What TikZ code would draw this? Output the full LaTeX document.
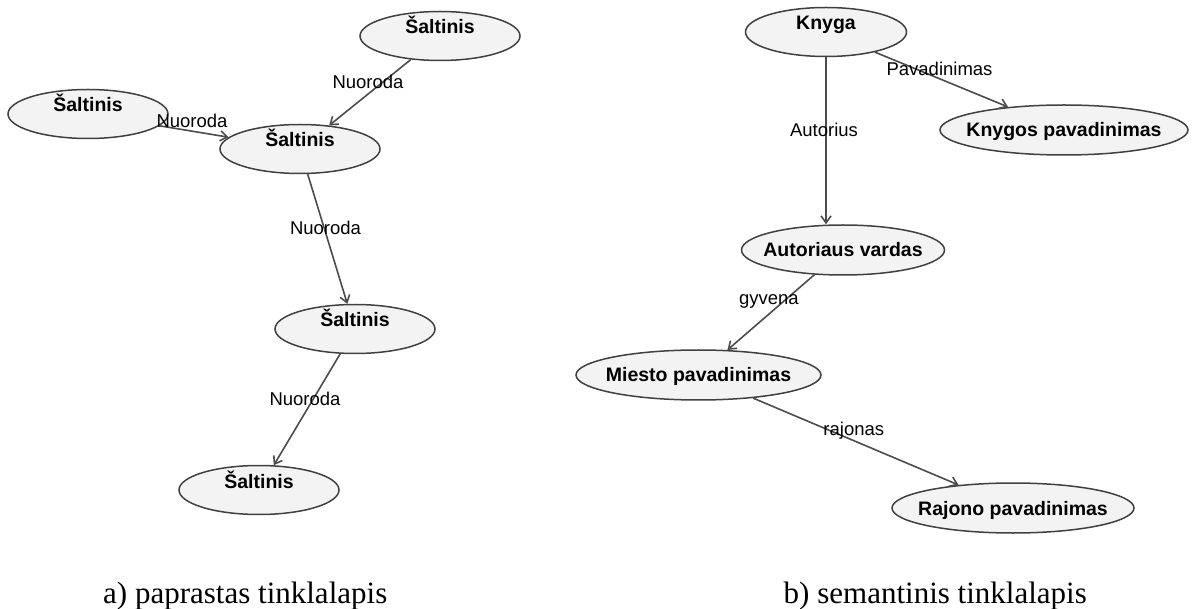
\documentclass[tikz,border=0pt]{standalone}
\usepackage{fontspec}
\setmainfont{Liberation Sans}
\newfontfamily\capfont{Liberation Serif}
\usetikzlibrary{shapes.geometric,arrows.meta}
% zero-width text box so the ellipse keeps its given size
\newcommand{\zw}[1]{\makebox[0pt]{#1}}
\definecolor{nodefill}{HTML}{F3F3F3}
\definecolor{nodeline}{HTML}{404040}
\definecolor{edgeline}{HTML}{4C4C4C}
\tikzset{
  ent/.style={ellipse, draw=nodeline, fill=nodefill, line width=1.5pt,
    inner sep=0pt, minimum height=49pt, minimum width=160pt,
    font=\fontsize{19.5}{22}\selectfont\bfseries,
    text height=14pt, text depth=0pt},
  raised/.style={text depth=18pt},
  edge/.style={draw=edgeline, line width=1.6pt,
    -{Straight Barb[length=7pt,width=10pt]}},
  lbl/.style={midway, yshift=11pt, xshift=-2pt, inner sep=0pt,
    font=\fontsize{18.5}{21}\selectfont, text=black},
  caption/.style={inner sep=0pt, font=\capfont\fontsize{31}{34}\selectfont}
}
\begin{document}
\begin{tikzpicture}[x=1pt, y=-1pt]
\useasboundingbox (0,0) rectangle (1194,609);

% a) ordinary web page: anonymous sources linked by references
\node[ent, raised] (s1) at (440,36)  {\zw{Šaltinis}};
\node[ent, raised] (s2) at (88,114)  {\zw{Šaltinis}};
\node[ent, raised] (s3) at (300,149) {\zw{Šaltinis}};
\node[ent, raised] (s4) at (355,329) {\zw{Šaltinis}};
\node[ent, raised] (s5) at (259,490) {\zw{Šaltinis}};

\draw[edge] (s1) -- node[lbl] {Nuoroda} (s3);
\draw[edge] (s2) -- node[lbl] {Nuoroda} (s3);
\draw[edge] (s3) -- node[lbl] {Nuoroda} (s4);
\draw[edge] (s4) -- node[lbl] {Nuoroda} (s5);

% b) semantic web page: typed resources and relations
\node[ent, raised, minimum width=161pt] (knyga) at (826,32) {\zw{Knyga}};
\node[ent, minimum width=248pt, minimum height=50pt] (knygos) at (1064,130) {\zw{Knygos pavadinimas}};
\node[ent, minimum width=203pt, minimum height=50pt] (autor) at (843,250) {\zw{Autoriaus vardas}};
\node[ent, minimum width=245pt, minimum height=50pt] (miesto) at (698.5,375) {\zw{Miesto pavadinimas}};
\node[ent, minimum width=242pt, minimum height=50pt] (rajono) at (1013,508) {\zw{Rajono pavadinimas}};

\draw[edge] (knyga) -- node[lbl] {Pavadinimas} (knygos);
\draw[edge] (knyga) -- node[lbl] {Autorius} (knyga |- autor.north);
\draw[edge] (autor) -- node[lbl] {gyvena} (miesto);
\draw[edge] (miesto) -- node[lbl] {rajonas} (rajono);

% captions
\node[caption, anchor=base west] (capa) at (103,603) {a) paprastas tinklalapis};
\node[caption, anchor=base east] (capb) at (1087,603) {b) semantinis tinklalapis};
\end{tikzpicture}
\end{document}
